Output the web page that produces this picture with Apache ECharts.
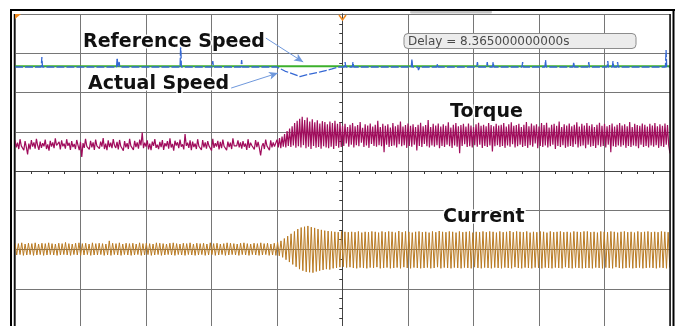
<!DOCTYPE html>
<html>
<head>
<meta charset="utf-8">
<script src="https://cdn.jsdelivr.net/npm/echarts@6/dist/echarts.min.js"></script>
<style>
  html, body { margin: 0; padding: 0; background: #fff; }
  #scope { width: 679px; height: 326px; }
</style>
</head>
<body>
<div id="scope"></div>
<script>
// time axis in screen divisions (-5..5), channel values in their own units

// current channel (A x 100), one sample per half cycle
const currentT0 = -5
const currentDt = 0.0257
const currentWave = [
  16,-14,15,-13,17,-15,14,-14,16,-13,15,-15,17,-14,14,-13,16,-15,15,-14,
  17,-13,15,-14,14,-15,16,-14,15,-13,18,-14,15,-15,14,-13,16,-14,17,-15,
  15,-14,16,-13,14,-15,17,-14,15,-14,16,-13,15,-15,14,-14,22,-15,16,-13,
  15,-14,17,-15,14,-13,16,-14,15,-15,16,-14,14,-13,17,-15,15,-14,16,-13,
  15,-15,14,-14,17,-13,16,-15,15,-14,14,-13,16,-14,17,-15,15,-13,14,-14,
  16,-15,15,-13,17,-14,14,-15,16,-14,15,-13,16,-15,14,-14,17,-13,15,-15,
  16,-14,14,-13,15,-15,17,-14,16,-13,15,-14,14,-15,16,-13,17,-14,15,-15,
  14,-13,16,-14,15,-15,17,-14,15,-13,16,-15,14,-14,16,-15,
  18,-16,22,-20,28,-26,34,-32,40,-38,46,-44,52,-50,56,-54,58,-57,60,-58,
  57,-59,55,-56,52,-54,50,-52,48,-50,47,-51,46,-48,45,-47,44,-45,46,-44,
  45,-46,44,-45,
  45,-47,44,-48,46,-46,43,-47,45,-48,44,-46,46,-47,45,-45,43,-48,46,-47,
  44,-46,46,-48,45,-47,43,-46,47,-48,44,-45,46,-47,45,-48,43,-46,45,-47,
  46,-48,44,-47,45,-46,43,-48,46,-47,44,-45,47,-48,45,-46,44,-47,46,-48,
  45,-46,43,-47,46,-48,44,-46,45,-47,46,-48,43,-45,45,-47,44,-48,46,-46,
  44,-47,46,-48,45,-46,43,-47,46,-48,44,-46,45,-47,47,-48,44,-45,46,-47,
  45,-48,44,-46,46,-47,43,-48,45,-46,44,-47,46,-48,45,-46,43,-47,46,-48,
  44,-46,45,-47,46,-48,44,-45,45,-47,43,-48,46,-46,45,-47,44,-48,46,-47,
  46,-47,44,-48,45,-46,43,-47,46,-48,45,-46,44,-47,46,-48,45,-45,43,-47,
  45,-48,46,-47,44,-46,45,-48,43,-47,46,-46,44,-48,45,-47,46,-46,44,-47,
  45,-48,44,-46,46,-47,45,-48,44,-46
]

// torque channel samples
const torqueT0 = -5
const torqueDt = 0.019231
const torqueWave = [
  -22,-40,-28,-44,-19,-36,-33,-47,-24,-39,-58,-30,-45,-21,-38,-27,-43,-18,-35,-46,
  -25,-41,-29,-37,-20,-44,-32,-48,-23,-38,-27,-42,-17,-35,-40,-26,-45,-22,-37,-30,
  -43,-19,-36,-28,-46,-24,-39,-31,-44,-21,-34,-47,-26,-64,-29,-41,-18,-37,-33,-45,
  -23,-40,-27,-46,-20,-36,-32,-43,-25,-38,-16,-44,-30,-47,-22,-39,-28,-42,-19,-35,
  -41,-26,-45,-21,-37,-33,-48,-24,-40,-29,-44,-18,-36,-31,-46,-23,-39,-27,-43,-20,
  -35,-2,-42,-28,-38,-22,-45,-30,-47,-25,-36,-19,-41,-33,-44,-26,-39,-21,-46,-29,
  -37,-24,-43,-17,-40,-31,-48,-23,-35,-27,-42,-20,-38,-32,-45,-6,-36,-28,-41,-22,
  -47,-25,-39,-30,-44,-19,-37,-34,-46,-21,-40,-27,-43,-24,-36,-32,-48,-18,-41,-29,
  -38,-23,-45,-26,-42,-20,-37,-33,-47,-25,-39,-28,-44,-17,-36,-31,-36,-22,-40,-27,
  -43,-24,-38,-30,-46,-19,-41,-28,-35,-33,-45,-21,-39,-26,-42,-60,-37,-29,-44,-20,
  -36,-31,-47,-22,-40,-27,-38,-33,
  -20,-40,-16,-42,-12,-38,-6,-40,2,-36,8,-39,14,-35,22,-41,28,-37,33,-40,
  38,-34,30,-42,36,-38,26,-44,32,-36,24,-41,29,-39,21,-43,27,-37,25,-40,
  19,-42,26,-38,22,-44,28,-36,20,-41,24,-39,
  15,-36,20,-30,12,-38,18,-33,22,-40,14,-34,17,-37,25,-28,10,-39,19,-35,
  16,-41,21,-31,13,-36,18,-38,28,-34,12,-37,20,-52,15,-33,19,-39,11,-36,
  22,-35,14,-40,18,-32,26,-37,13,-34,17,-41,21,-36,15,-38,19,-33,12,-48,
  18,-36,23,-39,14,-31,17,-37,30,-40,12,-35,20,-38,16,-34,21,-42,13,-36,
  19,-39,15,-33,24,-37,11,-41,18,-35,22,-38,14,-55,17,-36,20,-32,13,-39,
  21,-37,16,-40,12,-34,19,-38,23,-33,15,-41,18,-36,14,-39,22,-35,17,-50,
  14,-37,20,-34,16,-39,18,-36,22,-41,13,-35,19,-38,24,-32,15,-40,17,-37,
  20,-33,12,-39,18,-36,25,-41,14,-34,21,-38,16,-30,19,-42,13,-36,22,-39,
  17,-35,23,-40,11,-37,18,-33,20,-44,15,-36,26,-39,12,-34,19,-41,16,-38,
  21,-36,14,-39,18,-32,24,-40,13,-37,20,-35,16,-42,22,-33,15,-38,19,-36,
  12,-41,18,-34,23,-38,15,-36,20,-40,14,-33,17,-52,21,-37,13,-39,18,-35,
  22,-38,16,-34,19,-41,14,-36,25,-39,12,-35,20,-37,17,-42,15,-33,21,-39,
  18,-36,13,-40,20,-35,16,-38,22,-34,14,-41,19,-37,15,-39,21,-33,17,-36,
  -55
]

// speed channel (rpm)
const speedRef = 1500
const speedActual = [
  [-5, 1495], [-4.6, 1495], [-4.59, 1571], [-4.58, 1495],
  [-3.45, 1495], [-3.44, 1564], [-3.43, 1495], [-3.41, 1533], [-3.4, 1495],
  [-2.48, 1495], [-2.47, 1678], [-2.46, 1495],
  [-1.99, 1495], [-1.98, 1541], [-1.97, 1495],
  [-1.55, 1495], [-1.54, 1548], [-1.53, 1495],
  [-1.0, 1495], [-0.88, 1464], [-0.65, 1422], [-0.5, 1441], [-0.34, 1457],
  [-0.16, 1480], [-0.07, 1495],
  [0.03, 1495], [0.04, 1533], [0.05, 1495],
  [0.15, 1495], [0.16, 1533], [0.17, 1495],
  [1.05, 1495], [1.06, 1556], [1.07, 1495], [1.15, 1495], [1.16, 1472], [1.18, 1495],
  [1.44, 1495], [1.45, 1518], [1.46, 1495],
  [2.05, 1495], [2.06, 1533], [2.07, 1495],
  [2.2, 1495], [2.21, 1533], [2.22, 1495], [2.29, 1495], [2.3, 1533], [2.31, 1495],
  [2.74, 1495], [2.75, 1533], [2.76, 1495],
  [3.09, 1495], [3.1, 1548], [3.11, 1495],
  [3.52, 1495], [3.53, 1533], [3.54, 1495],
  [3.75, 1495], [3.76, 1533], [3.77, 1495],
  [4.04, 1495], [4.05, 1541], [4.06, 1495], [4.12, 1495], [4.13, 1541], [4.14, 1495],
  [4.19, 1495], [4.2, 1533], [4.21, 1495],
  [4.93, 1495], [4.94, 1625], [4.95, 1495], [5, 1495]
]

const delayText = 'Delay = 8.365000000000s'

let chart = echarts.init(document.getElementById('scope'), null, { renderer: 'canvas' })

let toPairs = (vals, t0, dt) => vals.map((v, i) => [t0 + i * dt, v])

let tickStyle = { color: '#3a3a3a', width: 1 }

chart.setOption({
  animation: false,
  backgroundColor: '#fff',
  grid: { left: 15, top: 14, width: 655, height: 314, outerBoundsMode: 'none' },
  xAxis: [
    {
      type: 'value', min: -5, max: 5, interval: 1,
      axisLine: { onZero: true, onZeroAxisIndex: 0, lineStyle: { color: '#444', width: 1 } },
      axisTick: { show: false },
      minorTick: { show: true, splitNumber: 4, length: 3, lineStyle: tickStyle },
      axisLabel: { show: false },
      splitLine: { show: true, lineStyle: { color: '#767676', width: 1 } }
    },
    {
      type: 'value', min: -5, max: 5, interval: 1,
      axisLine: { onZero: true, onZeroAxisIndex: 0, lineStyle: { color: '#444', width: 1 } },
      axisTick: { show: false, inside: true },
      minorTick: { show: true, splitNumber: 4, length: 3, lineStyle: tickStyle },
      axisLabel: { show: false },
      splitLine: { show: false }
    }
  ],
  yAxis: [
    {
      type: 'value', min: -4, max: 4, interval: 1,
      axisLine: { onZero: true, onZeroAxisIndex: 0, lineStyle: { color: '#444', width: 1 } },
      axisTick: { show: false },
      minorTick: { show: true, splitNumber: 4, length: 3, lineStyle: tickStyle },
      axisLabel: { show: false },
      splitLine: { show: true, lineStyle: { color: '#767676', width: 1 } }
    },
    {
      type: 'value', min: -4, max: 4, interval: 1,
      axisLine: { onZero: true, onZeroAxisIndex: 0, lineStyle: { color: '#444', width: 1 } },
      axisTick: { show: false, inside: true },
      minorTick: { show: true, splitNumber: 4, length: 3, lineStyle: tickStyle },
      axisLabel: { show: false },
      splitLine: { show: false }
    },
    // current
    { type: 'value', min: -200, max: 600, show: false },
    // torque
    { type: 'value', min: -500, max: 300, show: false },
    // speed
    { type: 'value', min: -500, max: 1900, show: false }
  ],
  series: [
    {
      name: 'Reference Speed', type: 'line', yAxisIndex: 4,
      data: [[-5, speedRef], [5, speedRef]],
      showSymbol: false, silent: true,
      lineStyle: { color: '#3cb02c', width: 2 }
    },
    {
      name: 'Actual Speed', type: 'line', yAxisIndex: 4,
      data: speedActual,
      showSymbol: false, silent: true,
      lineStyle: { color: '#3568d4', width: 1.3, type: [8, 2] },
      markLine: {
        silent: true,
        symbol: ['none', 'arrow'],
        symbolSize: [6, 9],
        label: { show: false },
        lineStyle: { color: '#6f98dc', width: 1, type: 'solid' },
        data: [
          [{ coord: [-1.17, 1716] }, { coord: [-0.6, 1533] }],
          [{ coord: [-1.7, 1334] }, { coord: [-0.985, 1449] }]
        ]
      }
    },
    {
      name: 'Torque', type: 'line', yAxisIndex: 3,
      data: toPairs(torqueWave, torqueT0, torqueDt),
      showSymbol: false, silent: true, sampling: null,
      lineStyle: { color: '#a00c5c', width: 1.2 }
    },
    {
      name: 'Current', type: 'line', yAxisIndex: 2,
      data: toPairs(currentWave, currentT0, currentDt),
      showSymbol: false, silent: true,
      lineStyle: { color: '#b97a22', width: 1 }
    }
  ],
  graphic: [
    // scope frame
    { type: 'rect', z: 100, shape: { x: 410, y: 10.5, width: 82, height: 3, r: 1.5 }, style: { fill: '#c6c6c6' } },
    { type: 'line', z: 100, shape: { x1: 10, y1: 10, x2: 675, y2: 10 }, style: { stroke: '#000', lineWidth: 2 } },
    { type: 'line', z: 100, shape: { x1: 11, y1: 10, x2: 11, y2: 326 }, style: { stroke: '#000', lineWidth: 2 } },
    { type: 'line', z: 100, shape: { x1: 14.5, y1: 14, x2: 14.5, y2: 326 }, style: { stroke: '#111', lineWidth: 1.5 } },
    { type: 'line', z: 100, shape: { x1: 670, y1: 14, x2: 670, y2: 326 }, style: { stroke: '#111', lineWidth: 1.5 } },
    { type: 'line', z: 100, shape: { x1: 673.5, y1: 10, x2: 673.5, y2: 326 }, style: { stroke: '#000', lineWidth: 2 } },
    { type: 'polygon', z: 100, shape: { points: [[15, 14], [21, 14], [15, 19]] }, style: { fill: '#f0891e' } },
    { type: 'polyline', z: 100, shape: { points: [[339, 15], [342.5, 20], [346, 15]] }, style: { stroke: '#f0891e', lineWidth: 1.5, fill: null } },
    // delay readout
    { type: 'rect', z: 100, shape: { x: 404, y: 33.5, width: 232, height: 15, r: 4 }, style: { fill: '#ececec', stroke: '#8c8c8c', lineWidth: 1 } },
    { type: 'text', z: 101, x: 408, y: 41.5, style: { text: delayText, font: '12px "DejaVu Sans"', fill: '#4a4a4a', verticalAlign: 'middle' } },
    // trace labels
    { type: 'text', z: 101, x: 83, y: 42, style: { text: 'Reference Speed', font: 'bold 19px "DejaVu Sans"', fill: '#111', stroke: '#fff', lineWidth: 3, strokeFirst: true, verticalAlign: 'middle' } },
    { type: 'text', z: 101, x: 88, y: 84, style: { text: 'Actual Speed', font: 'bold 19px "DejaVu Sans"', fill: '#111', stroke: '#fff', lineWidth: 3, strokeFirst: true, verticalAlign: 'middle' } },
    { type: 'text', z: 101, x: 450, y: 112, style: { text: 'Torque', font: 'bold 19px "DejaVu Sans"', fill: '#111', stroke: '#fff', lineWidth: 3, strokeFirst: true, verticalAlign: 'middle' } },
    { type: 'text', z: 101, x: 443, y: 217, style: { text: 'Current', font: 'bold 19px "DejaVu Sans"', fill: '#111', stroke: '#fff', lineWidth: 3, strokeFirst: true, verticalAlign: 'middle' } }
  ]
})
</script>
</body>
</html>
